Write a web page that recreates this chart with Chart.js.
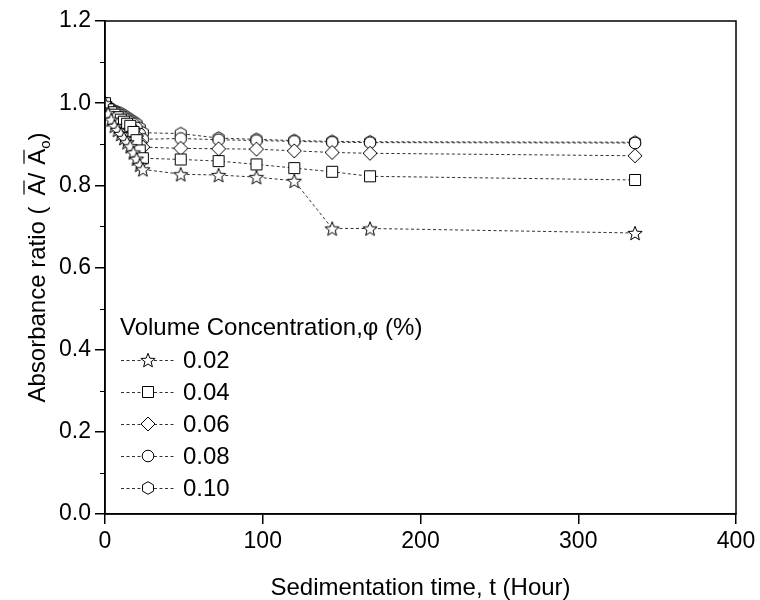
<!DOCTYPE html>
<html>
<head>
<meta charset="utf-8">
<script src="https://cdn.jsdelivr.net/npm/chart.js@4.4.0/dist/chart.umd.min.js"></script>
<style>
  body { margin: 0; background: #fff; }
  #wrap { width: 760px; height: 600px; }
</style>
</head>
<body>
<div id="wrap"><canvas id="chart" width="760" height="600"></canvas></div>
<script>
// data
const hours = [0, 2, 4, 6, 8, 10, 12, 14, 16, 18, 20, 22, 24, 48, 72, 96, 120, 144, 168, 336];
const phi002 = [1.0, 0.975, 0.96, 0.945, 0.935, 0.925, 0.915, 0.905, 0.895, 0.88, 0.865, 0.85, 0.839, 0.827, 0.825, 0.82, 0.811, 0.695, 0.695, 0.684];
const phi004 = [1.0, 0.985, 0.978, 0.972, 0.966, 0.96, 0.955, 0.95, 0.945, 0.93, 0.91, 0.885, 0.866, 0.863, 0.859, 0.851, 0.842, 0.833, 0.822, 0.813];
const phi006 = [1.0, 0.985, 0.978, 0.972, 0.966, 0.96, 0.955, 0.95, 0.945, 0.935, 0.92, 0.905, 0.893, 0.89, 0.889, 0.888, 0.884, 0.88, 0.878, 0.872];
const phi008 = [1.0, 0.99, 0.985, 0.98, 0.975, 0.97, 0.965, 0.96, 0.955, 0.95, 0.94, 0.925, 0.912, 0.914, 0.911, 0.909, 0.907, 0.905, 0.904, 0.903];
const phi010 = [1.0, 0.99, 0.985, 0.98, 0.978, 0.975, 0.97, 0.965, 0.96, 0.955, 0.95, 0.94, 0.928, 0.926, 0.915, 0.912, 0.909, 0.907, 0.906, 0.905];
const seriesLabels = ['0.02', '0.04', '0.06', '0.08', '0.10'];
const markerKinds = ['star', 'square', 'diamond', 'circle', 'hexagon'];
const xTicks = [0, 100, 200, 300, 400];
const yTicks = [0.0, 0.2, 0.4, 0.6, 0.8, 1.0, 1.2];
const yMinorTicks = [0.1, 0.3, 0.5, 0.7, 0.9, 1.1];
const legendTitle = 'Volume Concentration,\u03c6 (%)';
const xTitle = 'Sedimentation time, t (Hour)';

const FONT = '"Liberation Sans", Arial, sans-serif';

// hollow markers drawn on small canvases
function makeMarker(kind) {
    const s = 18, c = document.createElement('canvas');
    c.width = s; c.height = s;
    const g = c.getContext('2d');
    const cx = 9, cy = 9;
    g.fillStyle = '#fff';
    g.strokeStyle = '#000';
    g.lineWidth = 1;
    g.beginPath();
    if (kind === 'square') {
        g.rect(3.5, 3.5, 11, 11);
    } else if (kind === 'circle') {
        g.arc(cx, cy, 5.8, 0, Math.PI * 2);
    } else if (kind === 'diamond') {
        g.moveTo(cx, cy - 7); g.lineTo(cx + 7, cy); g.lineTo(cx, cy + 7); g.lineTo(cx - 7, cy); g.closePath();
    } else if (kind === 'star') {
        for (let i = 0; i < 10; i++) {
            const r = i % 2 ? 3.2 : 7.5;
            const a = -Math.PI / 2 + i * Math.PI / 5;
            const px = cx + r * Math.cos(a), py = cy + 0.8 + r * Math.sin(a);
            i ? g.lineTo(px, py) : g.moveTo(px, py);
        }
        g.closePath();
    } else if (kind === 'hexagon') {
        for (let i = 0; i < 6; i++) {
            const a = -Math.PI / 2 + i * Math.PI / 3;
            const px = cx + 6.3 * Math.cos(a), py = cy + 6.3 * Math.sin(a);
            i ? g.lineTo(px, py) : g.moveTo(px, py);
        }
        g.closePath();
    }
    g.fill();
    g.stroke();
    return c;
}
const markers = markerKinds.map(makeMarker);

const seriesValues = [phi002, phi004, phi006, phi008, phi010];
const datasets = seriesValues.map((vals, i) => ({
    label: seriesLabels[i],
    data: hours.map((h, j) => ({x: h, y: vals[j]})),
    borderColor: '#333',
    borderWidth: 1,
    borderDash: [3, 2.5],
    pointStyle: markers[i],
    pointRadius: 6,
    tension: 0,
    fill: false
}));

// frame, minor ticks, titles and the legend
const decorPlugin = {
    id: 'decor',
    afterDraw(chart) {
        const ctx = chart.ctx;
        const {left, right, top, bottom} = chart.chartArea;
        const y = chart.scales.y;
        ctx.save();
        ctx.strokeStyle = '#000';
        ctx.lineWidth = 1.5;
        ctx.strokeRect(left, top, right - left, bottom - top);
        ctx.lineWidth = 1;
        yMinorTicks.forEach(v => {
            const py = Math.round(y.getPixelForValue(v)) + 0.5;
            ctx.beginPath(); ctx.moveTo(left - 5, py); ctx.lineTo(left, py); ctx.stroke();
        });

        ctx.fillStyle = '#000';
        ctx.font = '24px ' + FONT;
        ctx.textAlign = 'center';
        ctx.textBaseline = 'middle';
        ctx.fillText(xTitle, (left + right) / 2, 588);

        // y title with bars over the A's
        ctx.save();
        ctx.translate(37, (top + bottom) / 2);
        ctx.rotate(-Math.PI / 2);
        ctx.font = '24px ' + FONT;
        const p1 = 'Absorbance ratio (';
        const w1 = ctx.measureText(p1).width, wA = ctx.measureText('A').width,
              wSl = ctx.measureText('/').width, wP = ctx.measureText(')').width;
        ctx.font = '15px ' + FONT;
        const ws = ctx.measureText('o').width;
        const gap1 = 11, gap2 = 8;
        let x0 = -(w1 + gap1 + wA + wSl + gap2 + wA + ws + wP) / 2;
        ctx.font = '24px ' + FONT;
        ctx.textAlign = 'left';
        ctx.textBaseline = 'alphabetic';
        const base = 8, barY = base - 21;
        ctx.lineWidth = 1.2;
        ctx.fillText(p1, x0, base); x0 += w1 + gap1;
        ctx.beginPath(); ctx.moveTo(x0 + 1, barY); ctx.lineTo(x0 + wA - 1, barY); ctx.stroke();
        ctx.fillText('A', x0, base); x0 += wA;
        ctx.fillText('/', x0, base); x0 += wSl + gap2;
        ctx.beginPath(); ctx.moveTo(x0 + 1, barY); ctx.lineTo(x0 + wA - 1, barY); ctx.stroke();
        ctx.fillText('A', x0, base); x0 += wA;
        ctx.font = '15px ' + FONT;
        ctx.fillText('o', x0, base + 5); x0 += ws;
        ctx.font = '24px ' + FONT;
        ctx.fillText(')', x0, base);
        ctx.restore();

        // legend
        ctx.font = '24px ' + FONT;
        ctx.textAlign = 'left';
        ctx.textBaseline = 'middle';
        ctx.fillText(legendTitle, 120, 328);
        chart.data.datasets.forEach((ds, i) => {
            const ly = 360 + i * 32;
            ctx.save();
            ctx.strokeStyle = ds.borderColor;
            ctx.lineWidth = 1;
            ctx.setLineDash(ds.borderDash);
            ctx.beginPath(); ctx.moveTo(121, ly + 0.5); ctx.lineTo(175, ly + 0.5); ctx.stroke();
            ctx.restore();
            const m = ds.pointStyle;
            ctx.drawImage(m, 148 - m.width / 2, ly - m.height / 2);
            ctx.fillText(ds.label, 183, ly + 1);
        });
        ctx.restore();
    }
};

new Chart(document.getElementById('chart'), {
    type: 'line',
    data: {datasets: datasets},
    options: {
        responsive: false,
        animation: false,
        events: [],
        layout: {padding: {top: 21, right: 24, left: 0, bottom: 0}},
        plugins: {legend: {display: false}, tooltip: {enabled: false}},
        scales: {
            x: {
                type: 'linear', min: 0, max: 400,
                afterBuildTicks: s => { s.ticks = xTicks.map(v => ({value: v})); },
                afterFit: s => { s.height = 86; },
                ticks: {color: '#000', font: {size: 23, family: FONT}, padding: 4, maxRotation: 0},
                grid: {drawOnChartArea: false, drawTicks: true, tickLength: 10, color: '#000', lineWidth: 1.5},
                border: {color: '#000', width: 1.5}
            },
            y: {
                type: 'linear', min: 0, max: 1.2,
                afterBuildTicks: s => { s.ticks = yTicks.map(v => ({value: v})); },
                afterFit: s => { s.width = 105; },
                ticks: {color: '#000', font: {size: 23, family: FONT}, padding: 4, callback: v => v.toFixed(1)},
                grid: {drawOnChartArea: false, drawTicks: true, tickLength: 10, color: '#000', lineWidth: 1.5},
                border: {color: '#000', width: 1.5}
            }
        }
    },
    plugins: [decorPlugin]
});
</script>
</body>
</html>
